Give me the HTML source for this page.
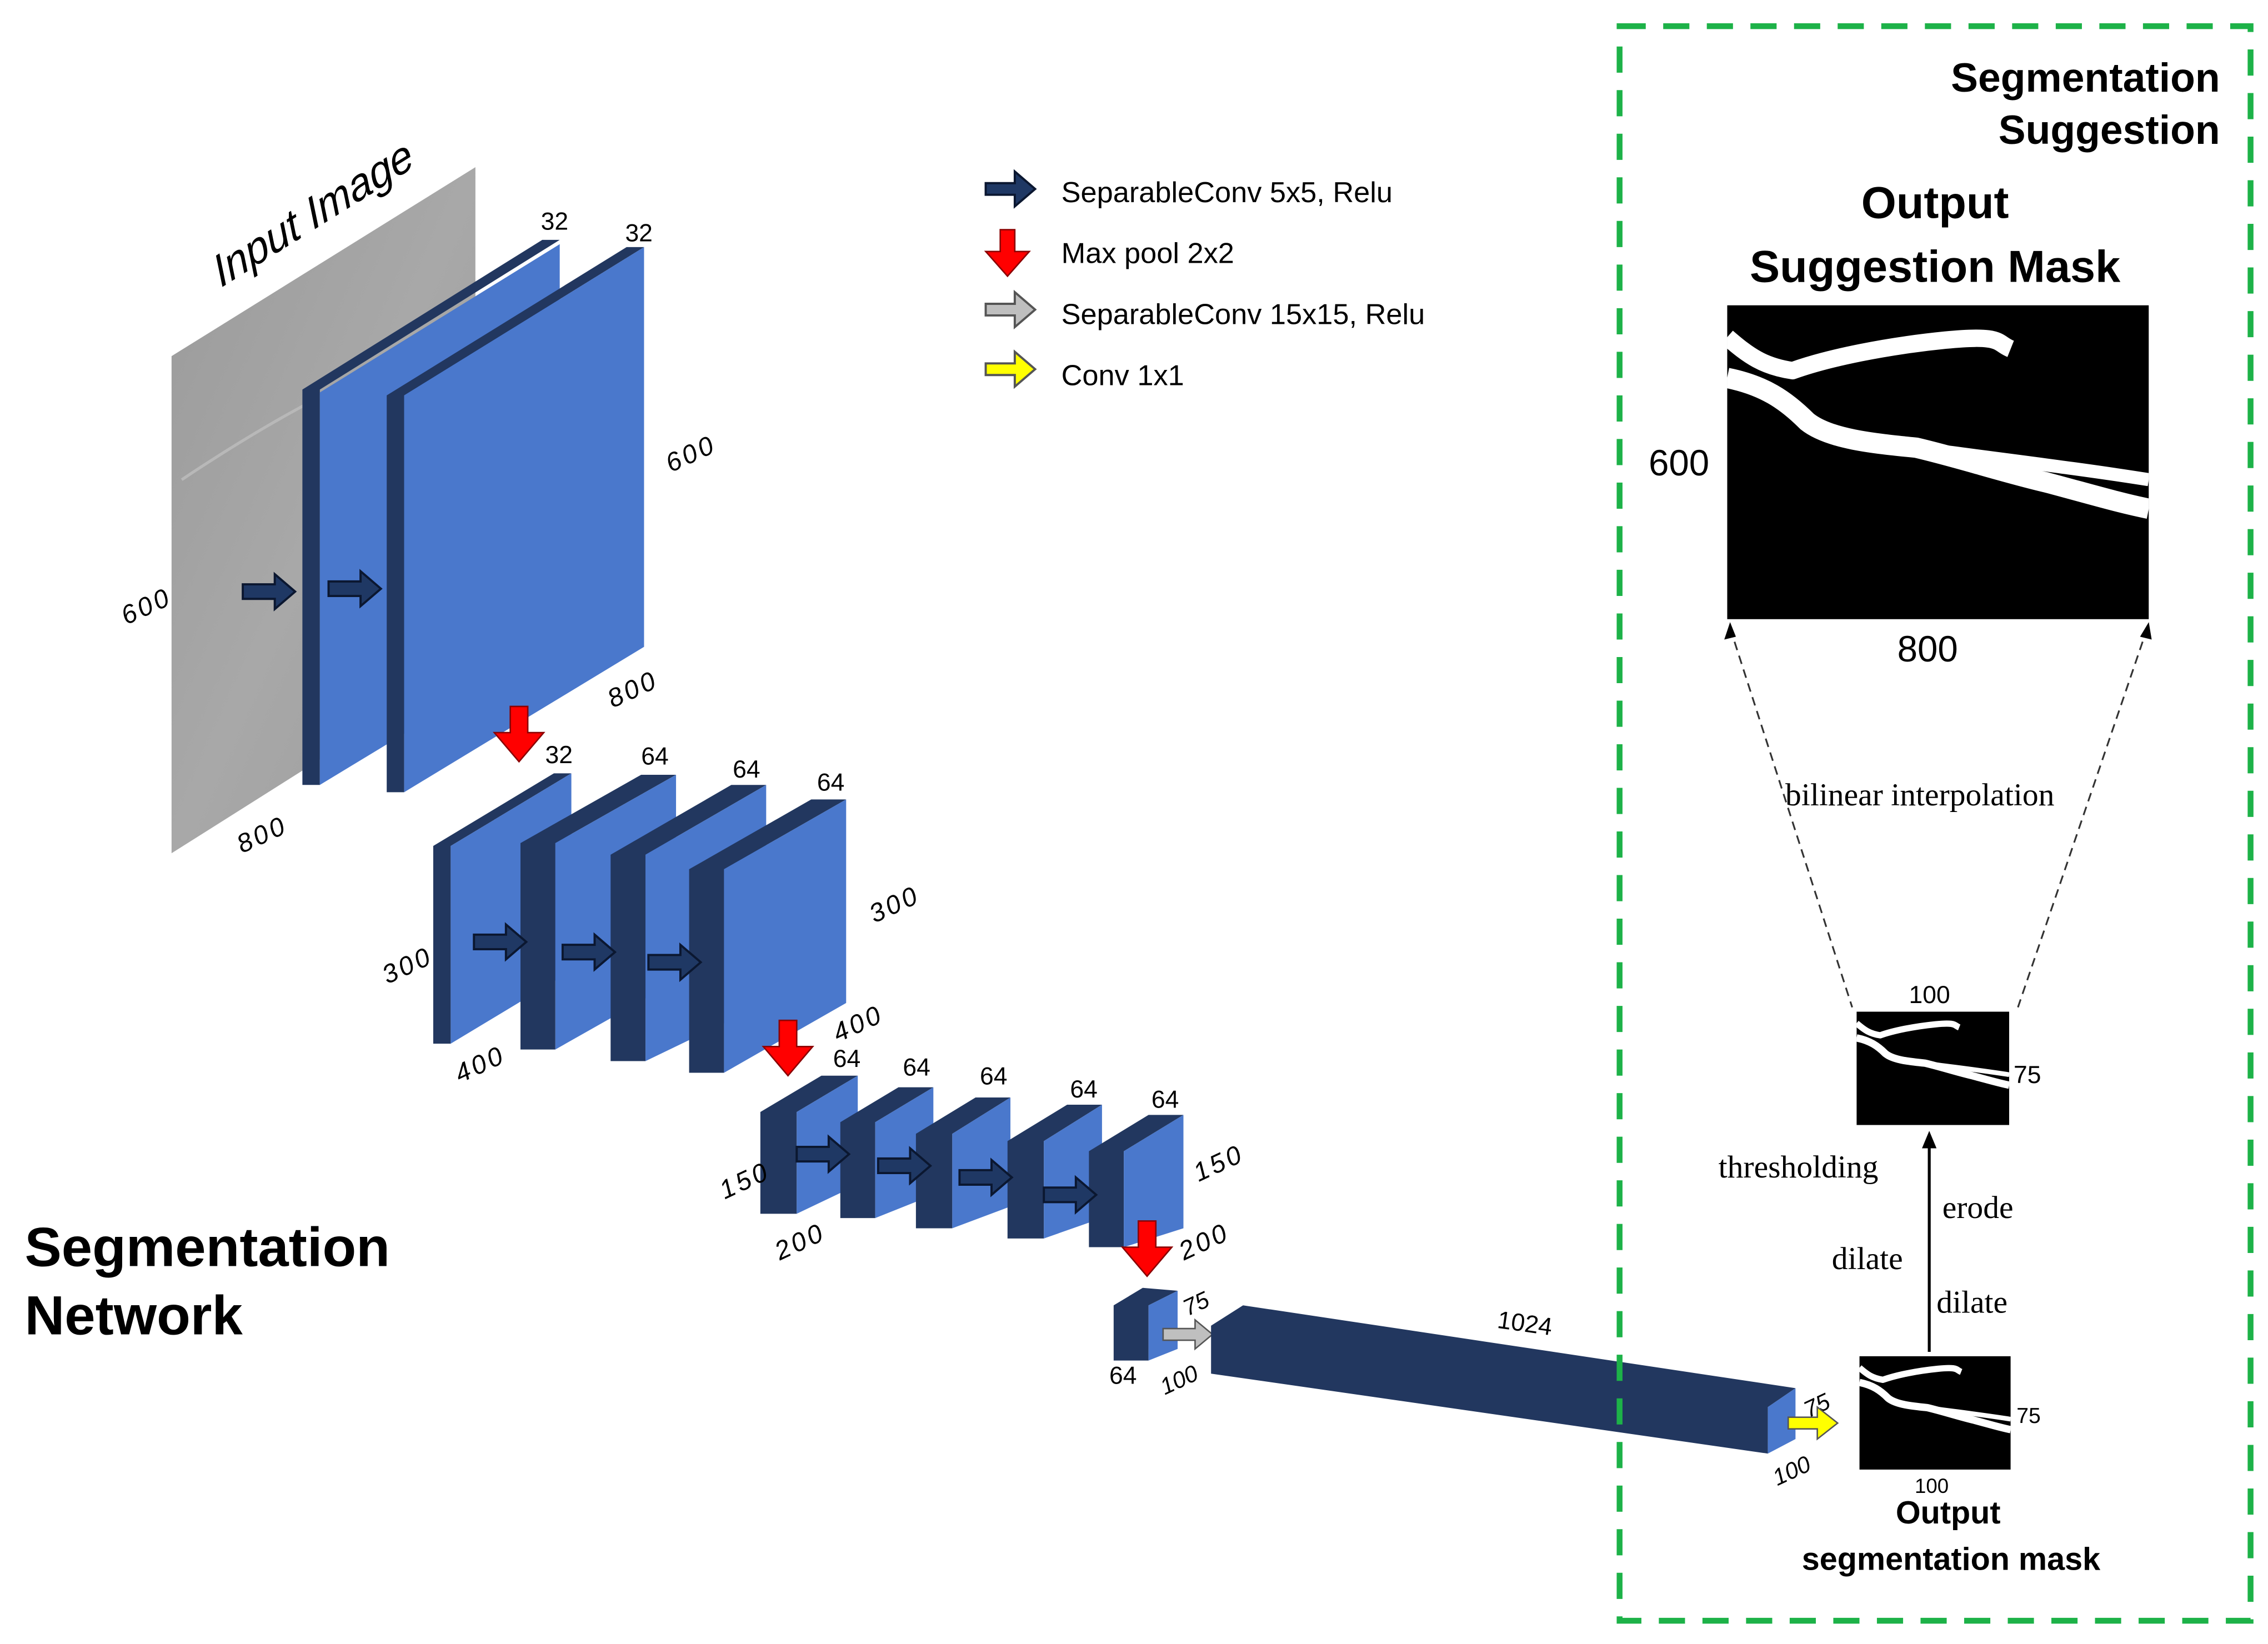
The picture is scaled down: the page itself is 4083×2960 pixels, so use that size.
<!DOCTYPE html>
<html><head><meta charset="utf-8"><style>
html,body{margin:0;padding:0;background:#fff}
svg{display:block}
text{font-family:"Liberation Sans",sans-serif}
.s{font-family:"Liberation Serif",serif}
</style></head><body>
<svg width="4083" height="2960" viewBox="0 0 1560 1131" preserveAspectRatio="none" xmlns="http://www.w3.org/2000/svg">
<defs>
<linearGradient id="g" x1="0" y1="0" x2="1" y2="1"><stop offset="0" stop-color="#9a9a9a"/><stop offset="0.5" stop-color="#a8a8a8"/><stop offset="1" stop-color="#9c9c9c"/></linearGradient>
<symbol id="ves" viewBox="0 0 290 216" preserveAspectRatio="none">
<rect width="290" height="216" fill="#000"/>
<g fill="none" stroke="#fff" stroke-linejoin="round">
<path d="M0,22 C15,35 25,42 45,45 C70,36 110,28 150,24 S185,26 195,30" stroke-width="12"/>
<path d="M0,50 C25,55 40,65 55,80 C70,92 100,95 130,98 C160,105 190,115 220,122 C250,130 270,136 290,140" stroke-width="14"/>
<path d="M130,98 C180,105 240,112 290,120" stroke-width="9"/>
</g>
</symbol>
<g id="nav"><polygon points="0,-5 22,-5 22,-12 36,0 22,12 22,5 0,5" fill="#1f3864" stroke="#0b1730" stroke-width="1.5"/></g>
</defs>

<!-- Input image -->
<polygon points="118,245 327,115 327,455 118,587" fill="url(#g)"/>
<path d="M125,330 C170,300 220,270 280,245" stroke="#b8b8b8" stroke-width="2" fill="none"/>
<text x="0" y="0" font-size="30" transform="translate(152,198) rotate(-32) skewX(-10)" font-style="italic">Input Image</text>
<text x="80" y="425" font-size="18" font-style="italic" letter-spacing="2" transform="rotate(-25 95 412)">600</text>
<text x="160" y="582" font-size="18" font-style="italic" letter-spacing="2" transform="rotate(-25 175 570)">800</text>

<!-- Block 1 -->
<polygon points="208,268 373,165 385,165 220,268 220,540 208,540" fill="#22375f"/>
<polygon points="220,270 385,168 385,440 220,540" fill="#4a78cc"/>
<!-- Block 2 -->
<polygon points="266,272 431,170 443,170 278,272 278,545 266,545" fill="#22375f"/>
<polygon points="278,272 443,170 443,445 278,545" fill="#4a78cc"/>
<text x="372" y="158" font-size="17">32</text>
<text x="430" y="166" font-size="17">32</text>
<text x="455" y="320" font-size="18" font-style="italic" letter-spacing="2" transform="rotate(-25 470 308)">600</text>
<text x="415" y="482" font-size="18" font-style="italic" letter-spacing="2" transform="rotate(-25 430 470)">800</text>
<use href="#nav" x="167" y="407"/>
<use href="#nav" x="226" y="405"/>

<!-- Row 2 -->
<polygon points="298,582 381,532 393,532 310,582 310,718 298,718" fill="#22375f"/>
<polygon points="310,582 393,532 393,668 310,718" fill="#4a78cc"/>
<polygon points="358,580 441,533 465,533 382,580 382,722 358,722" fill="#22375f"/>
<polygon points="382,580 465,533 465,675 382,722" fill="#4a78cc"/>
<polygon points="420,588 503,540 527,540 444,588 444,730 420,730" fill="#22375f"/>
<polygon points="444,588 527,540 527,690 444,730" fill="#4a78cc"/>
<polygon points="474,598 558,550 582,550 498,598 498,738 474,738" fill="#22375f"/>
<polygon points="498,598 582,550 582,690 498,738" fill="#4a78cc"/>
<text x="375" y="525" font-size="17">32</text>
<text x="441" y="526" font-size="17">64</text>
<text x="504" y="535" font-size="17">64</text>
<text x="562" y="544" font-size="17">64</text>
<text x="260" y="672" font-size="18" font-style="italic" letter-spacing="2" transform="rotate(-25 275 660)">300</text>
<text x="310" y="740" font-size="18" font-style="italic" letter-spacing="2" transform="rotate(-25 325 728)">400</text>
<text x="595" y="630" font-size="18" font-style="italic" letter-spacing="2" transform="rotate(-25 610 618)">300</text>
<text x="570" y="712" font-size="18" font-style="italic" letter-spacing="2" transform="rotate(-25 585 700)">400</text>
<use href="#nav" x="326" y="648"/>
<use href="#nav" x="387" y="655"/>
<use href="#nav" x="446" y="662"/>

<!-- Row 3 -->
<polygon points="523,765 565,740 590,740 548,765 548,835 523,835" fill="#22375f"/>
<polygon points="548,765 590,740 590,815 548,835" fill="#4a78cc"/>
<polygon points="578,772 618,748 642,748 602,772 602,838 578,838" fill="#22375f"/>
<polygon points="602,772 642,748 642,822 602,838" fill="#4a78cc"/>
<polygon points="630,780 671,755 695,755 655,780 655,845 630,845" fill="#22375f"/>
<polygon points="655,780 695,755 695,830 655,845" fill="#4a78cc"/>
<polygon points="693,785 734,760 758,760 718,785 718,852 693,852" fill="#22375f"/>
<polygon points="718,785 758,760 758,838 718,852" fill="#4a78cc"/>
<polygon points="749,792 790,767 814,767 773,792 773,858 749,858" fill="#22375f"/>
<polygon points="773,792 814,767 814,845 773,858" fill="#4a78cc"/>
<text x="573" y="734" font-size="17">64</text>
<text x="621" y="740" font-size="17">64</text>
<text x="674" y="746" font-size="17">64</text>
<text x="736" y="755" font-size="17">64</text>
<text x="792" y="762" font-size="17">64</text>
<text x="492" y="820" font-size="18" font-style="italic" letter-spacing="2" transform="rotate(-25 507 808)">150</text>
<text x="530" y="862" font-size="18" font-style="italic" letter-spacing="2" transform="rotate(-25 545 850)">200</text>
<text x="818" y="808" font-size="18" font-style="italic" letter-spacing="2" transform="rotate(-25 833 796)">150</text>
<text x="808" y="862" font-size="18" font-style="italic" letter-spacing="2" transform="rotate(-25 823 850)">200</text>
<use href="#nav" x="548" y="794"/>
<use href="#nav" x="604" y="802"/>
<use href="#nav" x="660" y="810"/>
<use href="#nav" x="718" y="822"/>

<!-- small block -->
<polygon points="766,898 786,886 810,888 790,898 790,936 766,936" fill="#22375f"/>
<polygon points="790,898 810,888 810,928 790,936" fill="#4a78cc"/>
<text x="763" y="952" font-size="17">64</text>
<text x="813" y="902" font-size="16" font-style="italic" transform="rotate(-25 823 895)">75</text>
<text x="797" y="955" font-size="16" font-style="italic" transform="rotate(-25 810 948)">100</text>
<polygon points="800,914 822,914 822,908 834,918 822,928 822,922 800,922" fill="#bfbfbf" stroke="#555" stroke-width="1"/>

<!-- long bar -->
<polygon points="833,912 855,898 1235,955 1216,968 1216,1000 833,945" fill="#22375f"/>
<polygon points="1216,968 1235,955 1235,990 1216,1000" fill="#4a78cc"/>
<text x="1030" y="916" font-size="17" transform="rotate(8 1048 910)">1024</text>
<text x="1240" y="972" font-size="16" font-style="italic" transform="rotate(-25 1250 965)">75</text>
<text x="1218" y="1018" font-size="16" font-style="italic" transform="rotate(-25 1230 1010)">100</text>
<polygon points="1230,975 1250,975 1250,968 1264,979 1250,990 1250,983 1230,983" fill="#ffff00" stroke="#555" stroke-width="1"/>

<!-- red pool arrows -->
<g fill="#ff0000" stroke="#8b0000" stroke-width="1">
<polygon points="351,486 363,486 363,504 374,504 357,524 340,504 351,504"/>
<polygon points="536,702 548,702 548,720 559,720 542,740 525,720 536,720"/>
<polygon points="783,840 795,840 795,858 806,858 789,878 772,858 783,858"/>
<polygon points="688,158 698,158 698,173 708,173 693,190 678,173 688,173"/>
</g>

<!-- legend -->
<polygon points="678,126 698,126 698,118 712,130 698,142 698,134 678,134" fill="#1f3864" stroke="#0b1730" stroke-width="1.5"/>
<polygon points="678,209 698,209 698,201 712,213 698,225 698,217 678,217" fill="#bfbfbf" stroke="#555" stroke-width="1.5"/>
<polygon points="678,250 698,250 698,242 712,254 698,266 698,258 678,258" fill="#ffff00" stroke="#555" stroke-width="1.5"/>
<text x="730" y="139" font-size="20">SeparableConv 5x5, Relu</text>
<text x="730" y="181" font-size="20">Max pool 2x2</text>
<text x="730" y="223" font-size="20">SeparableConv 15x15, Relu</text>
<text x="730" y="265" font-size="20">Conv 1x1</text>

<text x="17" y="871" font-size="38" font-weight="bold">Segmentation</text>
<text x="17" y="918" font-size="38" font-weight="bold">Network</text>

<!-- right panel -->
<rect x="1114" y="18" width="434" height="1097" fill="none" stroke="#1db248" stroke-width="4" stroke-dasharray="18 12"/>
<text x="1527" y="63" font-size="28" font-weight="bold" text-anchor="end">Segmentation</text>
<text x="1527" y="99" font-size="28" font-weight="bold" text-anchor="end">Suggestion</text>
<text x="1331" y="150" font-size="31" font-weight="bold" text-anchor="middle">Output</text>
<text x="1331" y="194" font-size="31" font-weight="bold" text-anchor="middle">Suggestion Mask</text>
<use href="#ves" x="1188" y="210" width="290" height="216"/>
<text x="1134" y="327" font-size="25">600</text>
<text x="1305" y="455" font-size="25">800</text>

<g stroke="#333" stroke-width="1.2" stroke-dasharray="6 4" fill="none">
<line x1="1190" y1="432" x2="1274" y2="693"/>
<line x1="1477" y1="432" x2="1388" y2="693"/>
</g>
<polygon points="1190,428 1186,440 1194,438" fill="#000"/>
<polygon points="1478,428 1472,438 1480,440" fill="#000"/>
<text x="1228" y="554" font-size="22" class="s">bilinear interpolation</text>

<use href="#ves" x="1277" y="696" width="105" height="78"/>
<text x="1313" y="690" font-size="17">100</text>
<text x="1385" y="745" font-size="17">75</text>
<line x1="1327" y1="930" x2="1327" y2="786" stroke="#000" stroke-width="2"/>
<polygon points="1327,778 1322,790 1332,790" fill="#000"/>
<text x="1182" y="810" font-size="22" class="s">thresholding</text>
<text x="1336" y="838" font-size="22" class="s">erode</text>
<text x="1260" y="873" font-size="22" class="s">dilate</text>
<text x="1332" y="903" font-size="22" class="s">dilate</text>

<use href="#ves" x="1279" y="933" width="104" height="78"/>
<text x="1387" y="979" font-size="15">75</text>
<text x="1317" y="1027" font-size="14">100</text>
<text x="1340" y="1048" font-size="22" font-weight="bold" text-anchor="middle">Output</text>
<text x="1342" y="1080" font-size="22" font-weight="bold" text-anchor="middle">segmentation mask</text>
</svg>
</body></html>
